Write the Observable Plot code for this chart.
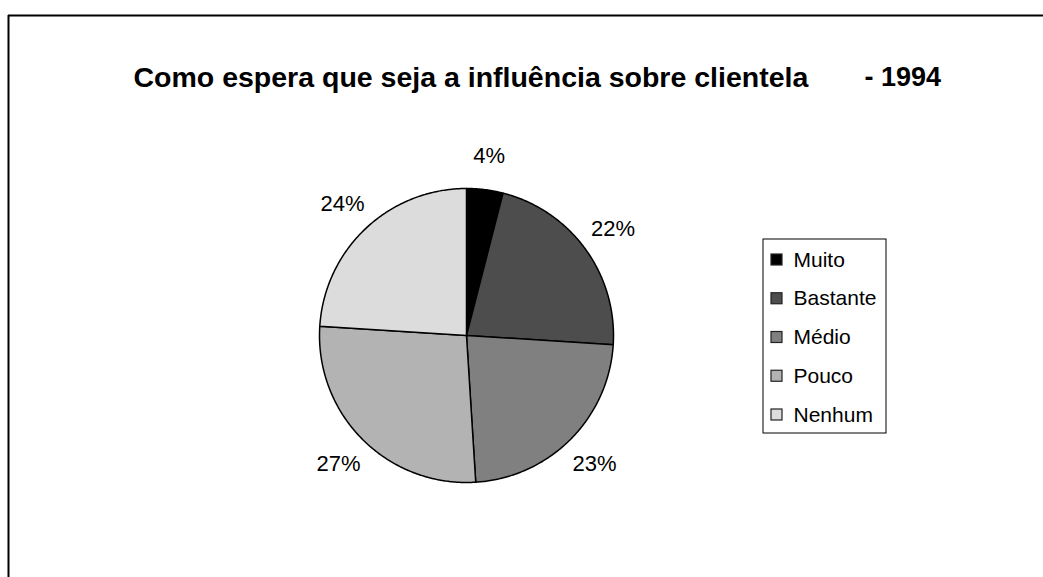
<!DOCTYPE html>
<html><head><meta charset="utf-8">
<script src="https://cdn.jsdelivr.net/npm/d3@7"></script>
<script src="https://cdn.jsdelivr.net/npm/@observablehq/plot@0.6"></script>
<style>
body{margin:0;background:#fff;overflow:hidden}
#chart svg{font-family:Arial,"Liberation Sans",sans-serif;display:block}
</style>
</head><body><div id="chart"></div>
<script>
// ---- data ----
const categories = ["Muito", "Bastante", "Médio", "Pouco", "Nenhum"];
const values = [4, 22, 23, 27, 24];
const labels = ["4%", "22%", "23%", "27%", "24%"];
const colors = ["#000000", "#4d4d4d", "#808080", "#b3b3b3", "#dcdcdc"];
const titleMain = "Como espera que seja a influência sobre clientela";
const titleYear = "- 1994";

// ---- layout ----
const W = 1043, H = 577;
const cx = 466, cy = 335, R = 147, LR = 181;
const legX1 = 763, legX2 = 886, legY1 = 239, legY2 = 433;
const legItemY0 = 259.5, legStep = 38.75;

const arcs = d3.pie().sort(null).value(d => d)(values);
const slices = [];
const labelData = [];
arcs.forEach((p, i) => {
  const cat = categories[i];
  slices.push({cat, x: cx, y: cy});
  const n = Math.max(4, Math.ceil((p.endAngle - p.startAngle) / 0.01));
  for (let k = 0; k <= n; k++) {
    const a = p.startAngle + (p.endAngle - p.startAngle) * k / n;
    slices.push({cat, x: cx + R * Math.sin(a), y: cy - R * Math.cos(a)});
  }
  slices.push({cat, x: cx, y: cy});
  const m = (p.startAngle + p.endAngle) / 2;
  labelData.push({text: labels[i], x: cx + LR * Math.sin(m), y: cy - LR * Math.cos(m)});
});

const legend = categories.map((c, i) => ({cat: c, y: legItemY0 + legStep * i}));

const chart = Plot.plot({
  width: W, height: H, margin: 0,
  x: {domain: [0, W], range: [0, W], axis: null},
  y: {domain: [0, H], range: [0, H], axis: null},
  color: {type: "ordinal", domain: categories, range: colors},
  marks: [
    Plot.ruleX([8], {x: d => d, y1: 15, y2: H, stroke: "black", strokeWidth: 2}),
    Plot.ruleY([15], {y: d => d, x1: 8, x2: W, stroke: "black", strokeWidth: 2}),
    Plot.text([titleMain], {x: 133, y: 77, text: d => d, textAnchor: "start", fontSize: 28.5, fontWeight: "bold", fill: "black"}),
    Plot.text([titleYear], {x: 864, y: 77, text: d => d, textAnchor: "start", fontSize: 27, fontWeight: "bold", fill: "black"}),
    Plot.line(slices, {x: "x", y: "y", z: "cat", fill: "cat", stroke: "black", strokeWidth: 1.5, curve: "linear"}),
    Plot.text(labelData, {x: "x", y: "y", text: "text", fontSize: 22, fill: "black"}),
    Plot.rect([0], {x1: legX1, x2: legX2, y1: legY1, y2: legY2, fill: "white", stroke: "black", strokeWidth: 1}),
    Plot.rect(legend, {x1: legX1 + 8, x2: legX1 + 19, y1: d => d.y - 5.5, y2: d => d.y + 5.5, fill: "cat", stroke: "#222", strokeWidth: 1.2}),
    Plot.text(legend, {x: legX1 + 30, y: "y", text: "cat", textAnchor: "start", fontSize: 21, fill: "black"})
  ]
});
document.getElementById("chart").append(chart);
</script>
</body></html>
